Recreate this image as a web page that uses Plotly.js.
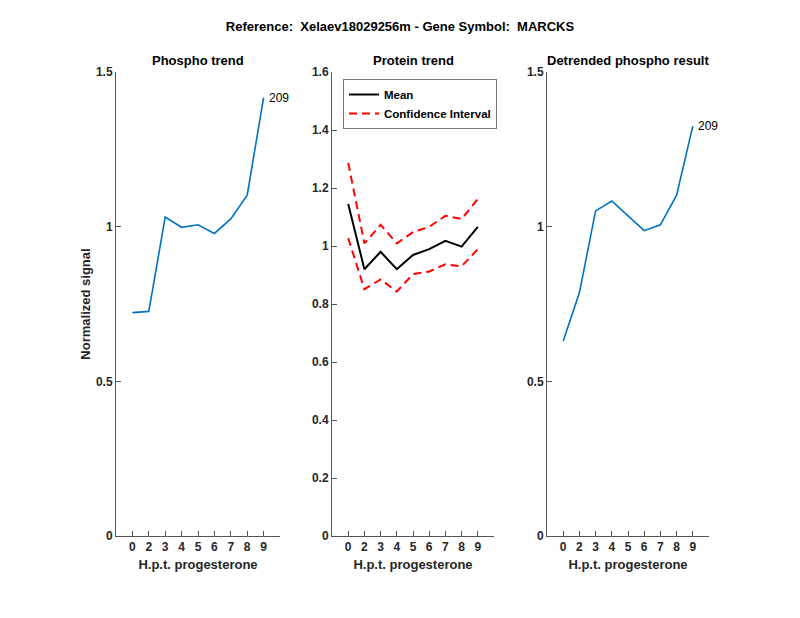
<!DOCTYPE html>
<html>
<head>
<meta charset="utf-8">
<script src="https://cdn.plot.ly/plotly-3.0.1.min.js"></script>
<style>html,body{margin:0;padding:0;background:#fff;}#chart{width:800px;height:618px;}</style>
</head>
<body>
<div id="chart"></div>
<script>
const categories = ['0','2','3','4','5','6','7','8','9'];
const phospho = [0.722, 0.726, 1.031, 0.998, 1.006, 0.978, 1.025, 1.102, 1.417];
const proteinMean = [1.145, 0.920, 0.980, 0.920, 0.969, 0.989, 1.018, 0.998, 1.066];
const proteinUpper = [1.286, 1.009, 1.073, 1.009, 1.048, 1.066, 1.104, 1.093, 1.162];
const proteinLower = [1.027, 0.851, 0.885, 0.843, 0.903, 0.912, 0.937, 0.930, 0.989];
const detrended = [0.630, 0.786, 1.051, 1.083, 1.035, 0.987, 1.006, 1.102, 1.325];
const peptideLabel = '209';

const FONT = 'Liberation Sans, Arial, Helvetica, sans-serif';
const TXT = '#262626';
const BLUE = '#0072BD';

const traces = [
  {x: categories, y: phospho, type: 'scatter', mode: 'lines', line: {color: BLUE, width: 1.6}, xaxis: 'x', yaxis: 'y', showlegend: false},
  {x: categories, y: proteinMean, type: 'scatter', mode: 'lines', name: 'Mean', line: {color: '#000', width: 2}, xaxis: 'x2', yaxis: 'y2', showlegend: true},
  {x: categories, y: proteinUpper, type: 'scatter', mode: 'lines', name: 'Confidence Interval', legendgroup: 'ci', line: {color: '#FF0000', width: 2, dash: '8px,5px'}, xaxis: 'x2', yaxis: 'y2', showlegend: true},
  {x: categories, y: proteinLower, type: 'scatter', mode: 'lines', name: 'Confidence Interval', legendgroup: 'ci', line: {color: '#FF0000', width: 2, dash: '8px,5px'}, xaxis: 'x2', yaxis: 'y2', showlegend: false},
  {x: categories, y: detrended, type: 'scatter', mode: 'lines', line: {color: BLUE, width: 1.6}, xaxis: 'x3', yaxis: 'y3', showlegend: false}
];

const yDom = [1 - 536/618, 1 - 72/618];
function xax(dom, anchor) {
  return {
    domain: dom, anchor: anchor, type: 'category', categoryorder: 'array', categoryarray: categories,
    range: [-1, 9], showgrid: false, zeroline: false, showline: true, linecolor: '#555', linewidth: 1,
    ticks: 'inside', ticklen: 5, tickcolor: '#555',
    tickfont: {family: FONT, size: 12, color: TXT, weight: 'bold'},
    title: {text: 'H.p.t. progesterone', font: {family: FONT, size: 13, color: TXT, weight: 'bold'}, standoff: 6},
    fixedrange: true
  };
}
function yax(range, dtick, anchor, title) {
  const a = {
    domain: yDom, anchor: anchor, range: range, dtick: dtick, tick0: 0, showgrid: false, zeroline: false,
    showline: true, linecolor: '#555', linewidth: 1, ticks: 'inside', ticklen: 5, tickcolor: '#555',
    tickfont: {family: FONT, size: 12, color: TXT, weight: 'bold'}, fixedrange: true
  };
  if (title) a.title = {text: title, font: {family: FONT, size: 13, color: TXT, weight: 'bold'}, standoff: 2};
  return a;
}

const doms = [[116/800, 280/800], [332/800, 494/800], [547/800, 709/800]];
const panelTitles = ['Phospho trend', 'Protein trend', 'Detrended phospho result'];

const annotations = panelTitles.map((t, i) => ({
  text: t, xref: 'paper', yref: 'paper', x: (doms[i][0] + doms[i][1]) / 2, y: 1 - 61/618,
  xanchor: 'center', yanchor: 'middle', showarrow: false,
  font: {family: FONT, size: 13, color: '#000', weight: 'bold'}
}));
const lastIdx = categories.length - 1;
annotations.push({text: peptideLabel, xref: 'x', yref: 'y', x: lastIdx, y: phospho[lastIdx], xanchor: 'left', yanchor: 'middle', xshift: 3, showarrow: false, font: {family: FONT, size: 12, color: '#000'}});
annotations.push({text: peptideLabel, xref: 'x3', yref: 'y3', x: lastIdx, y: detrended[lastIdx], xanchor: 'left', yanchor: 'middle', xshift: 3, showarrow: false, font: {family: FONT, size: 12, color: '#000'}});

const layout = {
  width: 800, height: 618, margin: {l: 0, r: 0, t: 0, b: 0},
  paper_bgcolor: '#fff', plot_bgcolor: 'rgba(0,0,0,0)',
  title: {text: 'Reference:  Xelaev18029256m - Gene Symbol:  MARCKS', x: 0.5, xanchor: 'center', xref: 'paper', y: 1 - 26/618, yanchor: 'middle', yref: 'container', font: {family: FONT, size: 13, color: '#000', weight: 'bold'}},
  xaxis: xax(doms[0], 'y'), yaxis: yax([0, 1.5], 0.5, 'x', 'Normalized signal'),
  xaxis2: xax(doms[1], 'y2'), yaxis2: yax([0, 1.6], 0.2, 'x2'),
  xaxis3: xax(doms[2], 'y3'), yaxis3: yax([0, 1.5], 0.5, 'x3'),
  legend: {x: 343/800, y: 1 - 79/618, xanchor: 'left', yanchor: 'top', bgcolor: '#fff', bordercolor: '#777', borderwidth: 1,
    font: {family: FONT, size: 11.5, color: '#000', weight: 'bold'}, tracegroupgap: 0},
  annotations: annotations,
  showlegend: true
};

Plotly.newPlot('chart', traces, layout, {staticPlot: true, displayModeBar: false});
</script>
</body>
</html>
